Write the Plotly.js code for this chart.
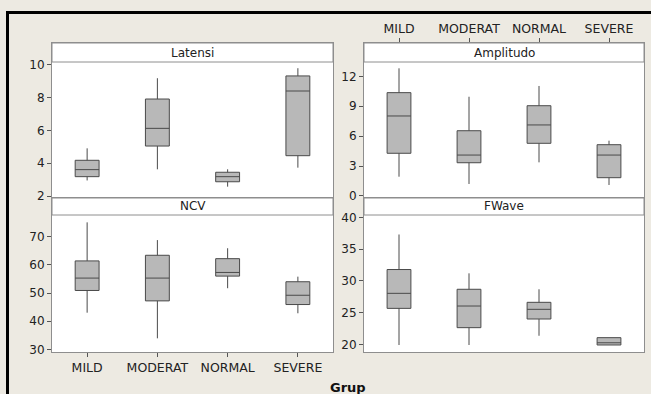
<!DOCTYPE html>
<html>
<head>
<meta charset="utf-8">
<script src="https://cdn.plot.ly/plotly-3.0.1.min.js"></script>
<style>html,body{margin:0;padding:0;background:#EDEAE2;}#chart{width:651px;height:394px;}</style>
</head>
<body>
<div id="chart"></div>
<script>
// ---- data ----
var groups = ["MILD", "MODERAT", "NORMAL", "SEVERE"];
var panelNames = ["Latensi", "Amplitudo", "NCV", "FWave"];

var latensiLow = [2.95, 3.63, 2.57, 3.73];
var latensiQ1  = [3.18, 5.05, 2.87, 4.46];
var latensiMed = [3.61, 6.13, 3.18, 8.41];
var latensiQ3  = [4.18, 7.92, 3.45, 9.33];
var latensiHigh= [4.91, 9.19, 3.63, 9.80];

var amplitudoLow = [1.93, 1.20, 3.37, 1.10];
var amplitudoQ1  = [4.28, 3.33, 5.28, 1.83];
var amplitudoMed = [8.02, 4.10, 7.12, 4.10];
var amplitudoQ3  = [10.36, 6.54, 9.05, 5.14];
var amplitudoHigh= [12.80, 9.95, 11.03, 5.54];

var ncvLow = [43.0, 33.9, 51.7, 42.8];
var ncvQ1  = [50.9, 47.2, 56.0, 45.9];
var ncvMed = [55.3, 55.3, 57.3, 49.2];
var ncvQ3  = [61.4, 63.4, 62.2, 54.0];
var ncvHigh= [75.1, 68.8, 65.9, 55.8];

var fwaveLow = [19.95, 19.95, 21.4, 19.95];
var fwaveQ1  = [25.7, 22.67, 24.03, 19.95];
var fwaveMed = [28.06, 26.07, 25.55, 20.3];
var fwaveQ3  = [31.8, 28.7, 26.65, 21.1];
var fwaveHigh= [37.3, 31.2, 28.7, 21.1];

var xTitle = "Grup";

// ---- styling ----
var FONT = "DejaVu Sans, Verdana, sans-serif";
var boxFill = "#B8B8B8";
var boxLine = "#4A4A4A";
var frame = "#8E8E8E";

function boxTrace(low, q1, med, q3, high, xa, ya) {
  return {
    type: "box", x: groups, lowerfence: low, q1: q1, median: med, q3: q3, upperfence: high,
    xaxis: xa, yaxis: ya, fillcolor: boxFill, line: {color: boxLine, width: 1},
    whiskerwidth: 0, width: 0.34, boxpoints: false, showlegend: false, hoverinfo: "skip"
  };
}

var data = [
  boxTrace(latensiLow, latensiQ1, latensiMed, latensiQ3, latensiHigh, "x", "y"),
  boxTrace(amplitudoLow, amplitudoQ1, amplitudoMed, amplitudoQ3, amplitudoHigh, "x2", "y2"),
  boxTrace(ncvLow, ncvQ1, ncvMed, ncvQ3, ncvHigh, "x3", "y3"),
  boxTrace(fwaveLow, fwaveQ1, fwaveMed, fwaveQ3, fwaveHigh, "x4", "y4")
];

var W = 651, H = 394;
function xd(a, b) { return [a / W, b / W]; }
function yd(top, bottom) { return [1 - bottom / H, 1 - top / H]; }

function xAxis(dom, anchor, opts) {
  var a = {
    domain: dom, anchor: anchor, type: "category", categoryorder: "array", categoryarray: groups,
    range: [-0.5, 3.5], showline: true, mirror: true, linecolor: frame, linewidth: 1,
    showgrid: false, zeroline: false, ticks: "", showticklabels: false, fixedrange: true,
    tickfont: {family: FONT, size: 12.5, color: "#222"}, tickcolor: "#555", ticklen: 4
  };
  for (var k in opts) a[k] = opts[k];
  return a;
}
function yAxis(dom, anchor, range, tv) {
  return {
    domain: dom, anchor: anchor, range: range, tickvals: tv, ticktext: tv.map(String),
    showline: true, mirror: true, linecolor: frame, linewidth: 1,
    showgrid: false, zeroline: false, ticks: "outside", ticklen: 4, tickcolor: "#555",
    tickfont: {family: FONT, size: 12, color: "#222"}, fixedrange: true
  };
}

var layout = {
  width: W, height: H,
  margin: {l: 0, r: 0, t: 0, b: 0},
  paper_bgcolor: "#EDEAE2", plot_bgcolor: "#FFFFFF",
  showlegend: false,
  xaxis:  xAxis(xd(52, 333), "y", {}),
  xaxis2: xAxis(xd(364, 644), "y2", {side: "top", ticks: "outside", showticklabels: true}),
  xaxis3: xAxis(xd(52, 333), "y3", {ticks: "outside", showticklabels: true}),
  xaxis4: xAxis(xd(364, 644), "y4", {}),
  yaxis:  yAxis(yd(43, 198), "x", [1.878, 11.34], [2, 4, 6, 8, 10]),
  yaxis2: yAxis(yd(43, 198), "x2", [-0.207, 15.34], [0, 3, 6, 9, 12]),
  yaxis3: yAxis(yd(198, 352), "x3", [29.04, 83.75], [30, 40, 50, 60, 70]),
  yaxis4: yAxis(yd(198, 352), "x4", [18.85, 43.03], [20, 25, 30, 35, 40]),
  shapes: [],
  annotations: []
};

var stripInfo = [
  {xr: "x domain", yr: "y domain", frac: 19 / 155},
  {xr: "x2 domain", yr: "y2 domain", frac: 19 / 155},
  {xr: "x3 domain", yr: "y3 domain", frac: 17 / 154},
  {xr: "x4 domain", yr: "y4 domain", frac: 17 / 154}
];
stripInfo.forEach(function (s, i) {
  layout.shapes.push({
    type: "rect", xref: s.xr, yref: s.yr, x0: 0, x1: 1, y0: 1 - s.frac, y1: 1,
    fillcolor: "#FFFFFF", line: {color: frame, width: 1}, layer: "above"
  });
  layout.annotations.push({
    xref: s.xr, yref: s.yr, x: 0.5, y: 1 - s.frac / 2, text: panelNames[i], showarrow: false,
    xanchor: "center", yanchor: "middle", font: {family: FONT, size: 12, color: "#222"}
  });
});

// window frame (black edges at top and left)
layout.shapes.push({type: "rect", xref: "paper", yref: "paper", x0: 6 / W, x1: 1, y0: 1 - 14 / H, y1: 1 - 11 / H,
  fillcolor: "#000", line: {width: 0}, layer: "above"});
layout.shapes.push({type: "rect", xref: "paper", yref: "paper", x0: 6 / W, x1: 9 / W, y0: 0, y1: 1 - 11 / H,
  fillcolor: "#000", line: {width: 0}, layer: "above"});

layout.annotations.push({
  xref: "paper", yref: "paper", x: 348 / W, y: 1 - 387 / H, text: "<b>" + xTitle + "</b>", showarrow: false,
  xanchor: "center", yanchor: "middle", font: {family: FONT, size: 13, color: "#111"}
});

Plotly.newPlot("chart", data, layout, {staticPlot: true, displayModeBar: false});
</script>
</body>
</html>
